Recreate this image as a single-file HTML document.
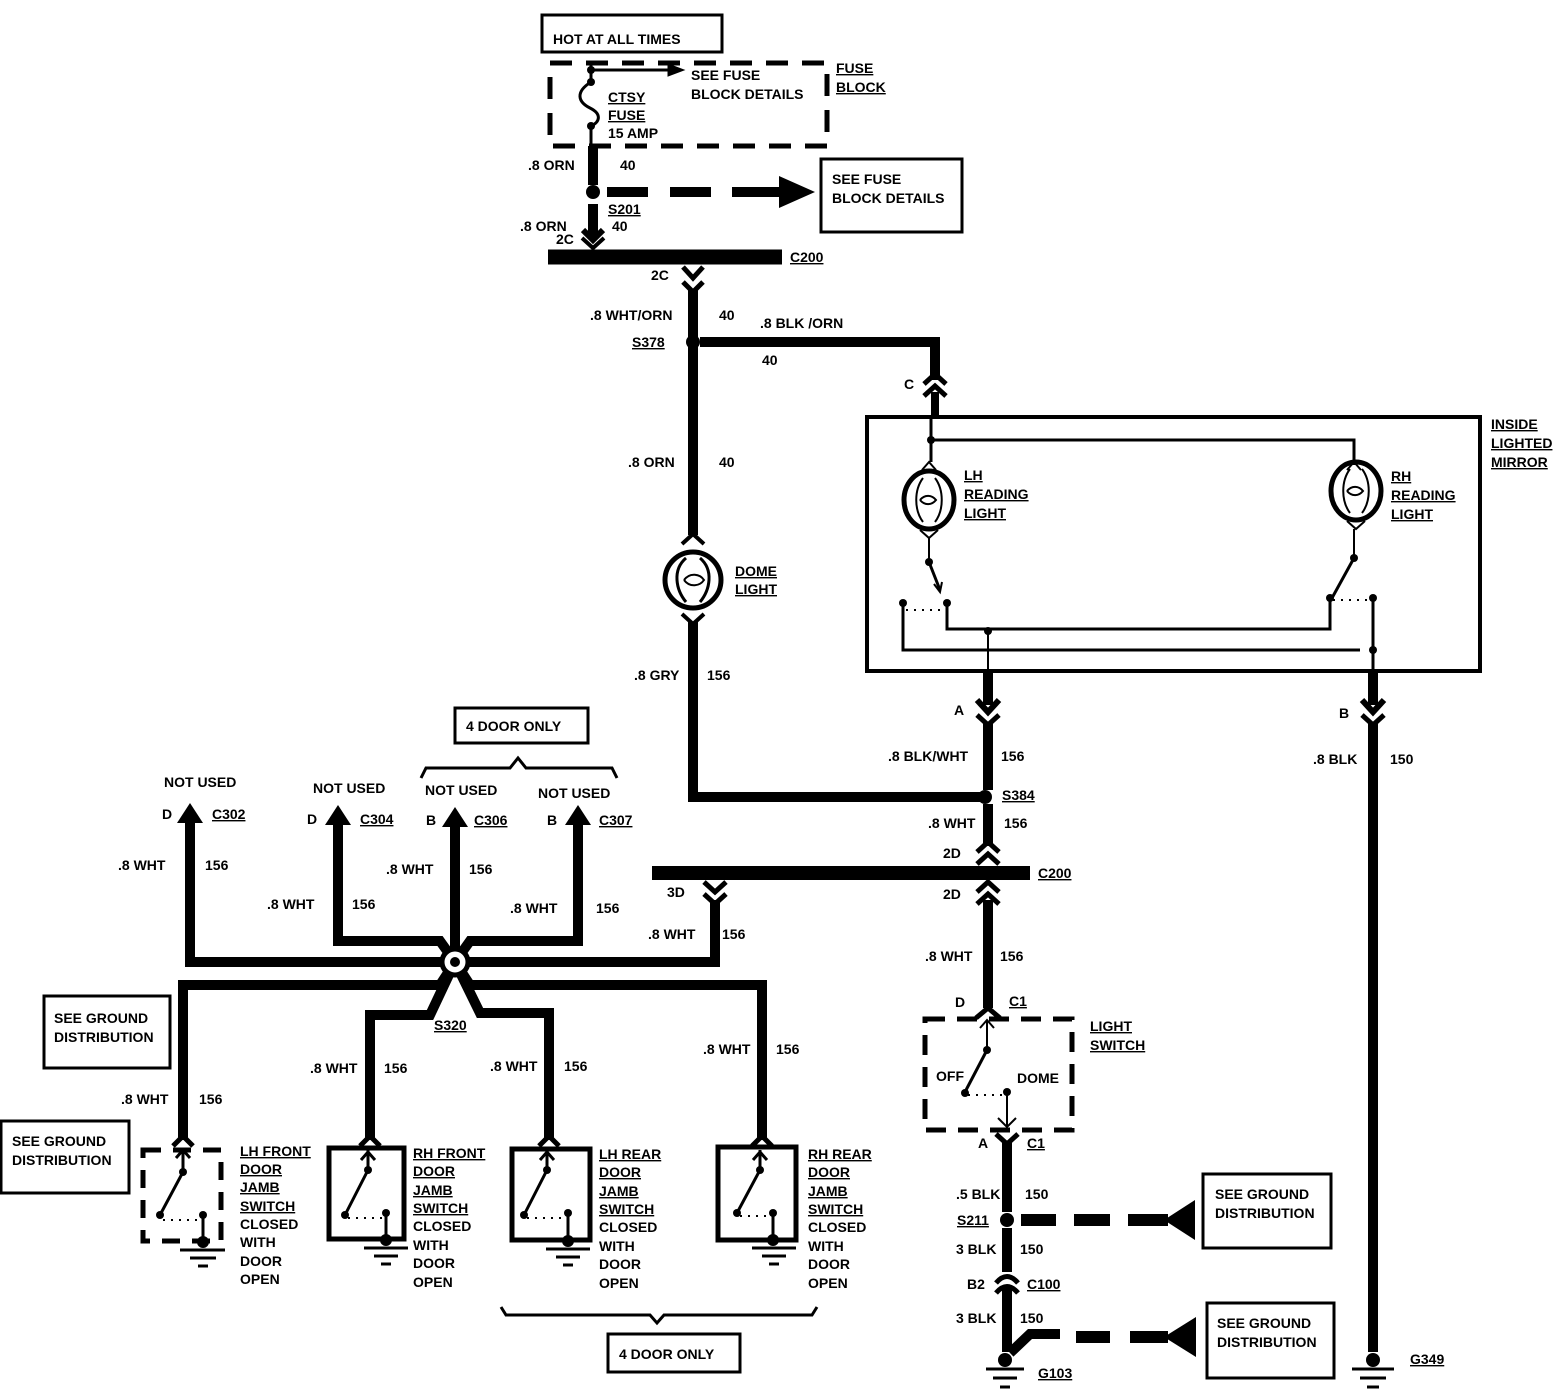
<!DOCTYPE html>
<html><head><meta charset="utf-8"><style>
html,body{margin:0;padding:0;background:#fff;}
svg{display:block;}
text{font-family:"Liberation Sans Narrow","Liberation Sans",sans-serif;font-weight:bold;font-size:14px;fill:#000;}
</style></head><body>
<svg width="1556" height="1392" viewBox="0 0 1556 1392" xmlns="http://www.w3.org/2000/svg">
<g fill="none" stroke="#000" stroke-linecap="butt">

<!-- TOP -->
<rect x="542" y="15" width="180" height="37" stroke-width="3"/>
<rect x="550" y="63" width="277" height="83" stroke-width="5" stroke-dasharray="22,14"/>
<line x1="591" y1="70" x2="670" y2="70" stroke-width="3"/>
<polygon points="668,64 684,70 668,76" fill="#000"/>
<line x1="591" y1="62" x2="591" y2="82" stroke-width="3"/>
<path d="M591,82 C575,92 578,102 590,108 C602,114 600,122 591,126" stroke-width="3"/>
<line x1="591" y1="126" x2="591" y2="148" stroke-width="3"/>
<line x1="593" y1="146" x2="593" y2="185" stroke-width="10"/>
<line x1="607" y1="192" x2="648" y2="192" stroke-width="10"/>
<line x1="670" y1="192" x2="711" y2="192" stroke-width="10"/>
<line x1="732" y1="192" x2="782" y2="192" stroke-width="10"/>
<polygon points="779,176 815,192 779,208" fill="#000" stroke="none"/>
<rect x="821" y="159" width="141" height="73" stroke-width="3"/>
<line x1="593" y1="204" x2="593" y2="236" stroke-width="10"/>
<polyline points="583,230 593,240 603,230" stroke-width="6"/>
<polyline points="582,238 593,248 604,238" stroke-width="4"/>
<line x1="548" y1="257" x2="782" y2="257" stroke-width="15"/>
<polyline points="683,267 693,278 703,267" stroke-width="5"/>
<polyline points="683,282 693,292 703,282" stroke-width="5"/>
<line x1="693" y1="290" x2="693" y2="535" stroke-width="10"/>
<line x1="700" y1="342" x2="940" y2="342" stroke-width="10"/>
<line x1="935" y1="338" x2="935" y2="380" stroke-width="10"/>
<polyline points="924,384 935,374 946,384" stroke-width="5"/>
<polyline points="924,396 935,386 946,396" stroke-width="5"/>
<line x1="935" y1="392" x2="935" y2="418" stroke-width="8"/>

<!-- dome light -->
<polyline points="682,544 693,534 704,544" stroke-width="4"/>
<circle cx="693" cy="580" r="28" stroke-width="5"/>
<path d="M686,558 C672,570 676,590 686,602 M700,558 C714,570 710,590 700,602" stroke-width="3"/>
<path d="M684,580 C690,572 700,574 704,580 C700,586 690,588 684,580" stroke-width="2"/>
<polyline points="682,614 693,624 704,614" stroke-width="4"/>
<line x1="693" y1="622" x2="693" y2="802" stroke-width="10"/>
<line x1="688" y1="797" x2="980" y2="797" stroke-width="10"/>

<!-- mirror box -->
<rect x="867" y="417" width="613" height="254" stroke-width="4"/>
<line x1="931" y1="418" x2="931" y2="462" stroke-width="3"/>
<polyline points="931,440 1354,440 1354,465" stroke-width="3"/>
<polyline points="922,470 929,462 936,470" stroke-width="2"/>
<ellipse cx="929" cy="500" rx="25" ry="29" stroke-width="5"/>
<path d="M923,478 C914,490 914,510 923,522 M935,478 C944,490 944,510 935,522" stroke-width="2"/>
<path d="M920,500 C925,494 932,495 936,500 C932,505 925,506 920,500" stroke-width="2"/>
<polyline points="920,530 929,538 938,530" stroke-width="2"/>
<line x1="929" y1="538" x2="929" y2="562" stroke-width="2"/>
<line x1="929" y1="562" x2="940" y2="590" stroke-width="3"/>
<polyline points="934,584 940,592 942,582" stroke-width="2"/>
<polyline points="903,603 903,650 1360,650" stroke-width="3"/>
<polyline points="947,603 947,629 1330,629 1330,598" stroke-width="3"/>
<line x1="906" y1="610" x2="944" y2="610" stroke-width="2" stroke-dasharray="2,6"/>
<line x1="1333" y1="600" x2="1372" y2="600" stroke-width="2" stroke-dasharray="2,6"/>
<polyline points="1347,470 1354,462 1361,470" stroke-width="2"/>
<ellipse cx="1356" cy="491" rx="25" ry="29" stroke-width="5"/>
<path d="M1350,469 C1341,481 1341,501 1350,513 M1362,469 C1371,481 1371,501 1362,513" stroke-width="2"/>
<path d="M1347,491 C1352,485 1359,486 1363,491 C1359,496 1352,497 1347,491" stroke-width="2"/>
<polyline points="1347,521 1356,529 1365,521" stroke-width="2"/>
<line x1="1354" y1="529" x2="1354" y2="558" stroke-width="2"/>
<line x1="1354" y1="558" x2="1332" y2="598" stroke-width="3"/>
<line x1="1373" y1="598" x2="1373" y2="672" stroke-width="3"/>
<line x1="988" y1="630" x2="988" y2="672" stroke-width="2"/>
<line x1="988" y1="670" x2="988" y2="705" stroke-width="10"/>
<polyline points="977,700 988,712 999,700" stroke-width="6"/>
<polyline points="977,715 988,725 999,715" stroke-width="5"/>
<line x1="1373" y1="670" x2="1373" y2="705" stroke-width="10"/>
<polyline points="1362,700 1373,712 1384,700" stroke-width="6"/>
<polyline points="1362,715 1373,725 1384,715" stroke-width="5"/>
<line x1="1373" y1="723" x2="1373" y2="1352" stroke-width="10"/>

<line x1="988" y1="723" x2="988" y2="790" stroke-width="10"/>
<line x1="988" y1="804" x2="988" y2="846" stroke-width="10"/>
<polyline points="977,852 988,842 999,852" stroke-width="5"/>
<polyline points="977,864 988,854 999,864" stroke-width="5"/>
<line x1="652" y1="873" x2="1030" y2="873" stroke-width="14"/>
<polyline points="977,892 988,882 999,892" stroke-width="5"/>
<polyline points="977,904 988,894 999,904" stroke-width="5"/>
<line x1="988" y1="900" x2="988" y2="1008" stroke-width="10"/>
<polyline points="976,1018 988,1008 1000,1018" stroke-width="5"/>

<!-- light switch -->
<rect x="925" y="1019" width="147" height="111" stroke-width="5" stroke-dasharray="20,12"/>
<line x1="987" y1="1020" x2="987" y2="1050" stroke-width="2"/>
<polyline points="980,1028 987,1020 994,1028" stroke-width="2"/>
<line x1="987" y1="1050" x2="965" y2="1092" stroke-width="3"/>
<line x1="968" y1="1095" x2="1005" y2="1095" stroke-width="2" stroke-dasharray="2,6"/>
<line x1="1007" y1="1092" x2="1007" y2="1128" stroke-width="2"/>
<polyline points="998,1118 1007,1127 1016,1118" stroke-width="2"/>
<polyline points="996,1134 1007,1144 1018,1134" stroke-width="5"/>
<line x1="1007" y1="1142" x2="1007" y2="1212" stroke-width="10"/>
<line x1="1007" y1="1228" x2="1007" y2="1272" stroke-width="10"/>
<path d="M996,1283 Q1007,1270 1018,1283" stroke-width="5"/>
<path d="M996,1293 Q1007,1280 1018,1293" stroke-width="5"/>
<line x1="1007" y1="1288" x2="1007" y2="1352" stroke-width="10"/>
<polyline points="1010,1353 1030,1334 1060,1334" stroke-width="10"/>
<line x1="1021" y1="1220" x2="1056" y2="1220" stroke-width="12"/>
<line x1="1074" y1="1220" x2="1110" y2="1220" stroke-width="12"/>
<line x1="1128" y1="1220" x2="1168" y2="1220" stroke-width="12"/>
<polygon points="1164,1220 1195,1200 1195,1240" fill="#000" stroke="none"/>
<rect x="1203" y="1174" width="128" height="74" stroke-width="3"/>
<line x1="1076" y1="1337" x2="1110" y2="1337" stroke-width="12"/>
<line x1="1130" y1="1337" x2="1168" y2="1337" stroke-width="12"/>
<polygon points="1164,1337 1196,1317 1196,1357" fill="#000" stroke="none"/>
<rect x="1207" y="1303" width="127" height="75" stroke-width="3"/>

<!-- grounds -->
<g stroke-width="3">
<line x1="986" y1="1369" x2="1024" y2="1369"/><line x1="993" y1="1378" x2="1017" y2="1378"/><line x1="1000" y1="1387" x2="1010" y2="1387"/>
<line x1="1352" y1="1369" x2="1394" y2="1369"/><line x1="1360" y1="1378" x2="1386" y2="1378"/><line x1="1367" y1="1387" x2="1379" y2="1387"/>
</g>

<!-- splice S320 and branches -->
<polyline points="190,818 190,962 715,962 715,900" stroke-width="10"/>
<polyline points="704,882 715,892 726,882" stroke-width="5"/>
<polyline points="704,894 715,904 726,894" stroke-width="5"/>
<polyline points="338,820 338,941 440,941 455,962" stroke-width="10"/>
<line x1="455" y1="822" x2="455" y2="962" stroke-width="10"/>
<polyline points="578,820 578,941 470,941 455,962" stroke-width="10"/>
<polyline points="183,1140 183,985 440,985 455,962" stroke-width="10"/>
<polyline points="762,1140 762,985 470,985 455,962" stroke-width="10"/>
<polyline points="370,1140 370,1015 430,1015 455,962" stroke-width="10"/>
<polyline points="549,1140 549,1013 480,1013 455,962" stroke-width="10"/>
<circle cx="455" cy="962" r="13" fill="#fff" stroke-width="5"/>
<circle cx="455" cy="962" r="5" fill="#000" stroke="none"/>
<g fill="#000" stroke="none">
<polygon points="177,823 190,803 203,823"/>
<polygon points="325,825 338,805 351,825"/>
<polygon points="442,827 455,807 468,827"/>
<polygon points="565,825 578,805 591,825"/>
</g>
<rect x="455" y="708" width="133" height="35" stroke-width="3"/>
<polyline points="421,778 426,768 510,768 518,758 526,768 612,768 617,778" stroke-width="3"/>
<rect x="44" y="996" width="126" height="72" stroke-width="3"/>
<rect x="1" y="1121" width="128" height="72" stroke-width="3"/>

<!-- door switches -->
<g stroke-width="5">
<polyline points="173,1146 183,1136 193,1146"/>
<polyline points="360,1146 370,1136 380,1146"/>
<polyline points="539,1146 549,1136 559,1146"/>
<polyline points="752,1146 762,1136 772,1146"/>
</g>
<rect x="143" y="1150" width="78" height="91" stroke-width="5" stroke-dasharray="18,12"/>
<rect x="329" y="1148" width="75" height="91" stroke-width="5"/>
<rect x="512" y="1149" width="78" height="91" stroke-width="5"/>
<rect x="718" y="1147" width="78" height="93" stroke-width="5"/>
<g stroke-width="3">
<path d="M183,1148 V1172 L160,1215 M176,1158 L183,1150 L190,1158"/>
<path d="M368,1150 V1170 L345,1215 M361,1160 L368,1152 L375,1160"/>
<path d="M547,1150 V1170 L524,1215 M540,1160 L547,1152 L554,1160"/>
<path d="M760,1150 V1170 L737,1213 M753,1160 L760,1152 L767,1160"/>
<path d="M203,1215 V1242 M386,1213 V1240 M568,1213 V1241 M773,1213 V1240"/>
</g>
<g stroke-width="2" stroke-dasharray="2,6">
<line x1="163" y1="1220" x2="200" y2="1220"/>
<line x1="348" y1="1218" x2="384" y2="1218"/>
<line x1="527" y1="1218" x2="565" y2="1218"/>
<line x1="740" y1="1216" x2="771" y2="1216"/>
</g>
<g stroke-width="3">
<line x1="180" y1="1250" x2="225" y2="1250"/><line x1="190" y1="1258" x2="216" y2="1258"/><line x1="198" y1="1266" x2="208" y2="1266"/>
<line x1="364" y1="1248" x2="408" y2="1248"/><line x1="374" y1="1256" x2="398" y2="1256"/><line x1="381" y1="1264" x2="391" y2="1264"/>
<line x1="546" y1="1249" x2="590" y2="1249"/><line x1="556" y1="1257" x2="580" y2="1257"/><line x1="563" y1="1265" x2="573" y2="1265"/>
<line x1="752" y1="1248" x2="796" y2="1248"/><line x1="762" y1="1256" x2="786" y2="1256"/><line x1="769" y1="1264" x2="779" y2="1264"/>
</g>
<polyline points="501,1307 506,1315 650,1315 657,1323 664,1315 812,1315 817,1307" stroke-width="3"/>
<rect x="608" y="1334" width="132" height="38" stroke-width="3"/>
</g>

<g fill="#000" stroke="none">
<circle cx="591" cy="70" r="4"/><circle cx="591" cy="82" r="4"/><circle cx="591" cy="126" r="4"/>
<circle cx="593" cy="192" r="7"/>
<circle cx="693" cy="342" r="7"/>
<circle cx="931" cy="440" r="4"/>
<circle cx="929" cy="562" r="4"/><circle cx="947" cy="603" r="4"/><circle cx="903" cy="603" r="4"/>
<circle cx="1354" cy="558" r="4"/><circle cx="1330" cy="598" r="4"/><circle cx="1373" cy="598" r="4"/>
<circle cx="988" cy="631" r="4"/><circle cx="1373" cy="650" r="4"/>
<circle cx="985" cy="797" r="7"/>
<circle cx="987" cy="1050" r="4"/><circle cx="965" cy="1093" r="4"/><circle cx="1007" cy="1092" r="4"/>
<circle cx="1007" cy="1220" r="7"/>
<circle cx="1005" cy="1360" r="7"/><circle cx="1373" cy="1360" r="7"/>
<circle cx="183" cy="1172" r="4"/><circle cx="160" cy="1215" r="4"/><circle cx="203" cy="1215" r="4"/><circle cx="203" cy="1242" r="6"/>
<circle cx="368" cy="1170" r="4"/><circle cx="345" cy="1215" r="4"/><circle cx="386" cy="1213" r="4"/><circle cx="386" cy="1240" r="6"/>
<circle cx="547" cy="1170" r="4"/><circle cx="524" cy="1215" r="4"/><circle cx="568" cy="1213" r="4"/><circle cx="568" cy="1241" r="6"/>
<circle cx="760" cy="1170" r="4"/><circle cx="737" cy="1213" r="4"/><circle cx="773" cy="1213" r="4"/><circle cx="773" cy="1240" r="6"/>
</g>

<g>
<text x="553" y="44">HOT AT ALL TIMES</text>
<text x="691" y="80">SEE FUSE</text><text x="691" y="99">BLOCK DETAILS</text>
<text x="608" y="102" text-decoration="underline">CTSY</text>
<text x="608" y="120" text-decoration="underline">FUSE</text>
<text x="608" y="138">15 AMP</text>
<text x="836" y="73" text-decoration="underline">FUSE</text>
<text x="836" y="92" text-decoration="underline">BLOCK</text>
<text x="528" y="170">.8 ORN</text><text x="620" y="170">40</text>
<text x="832" y="184">SEE FUSE</text><text x="832" y="203">BLOCK DETAILS</text>
<text x="608" y="214" text-decoration="underline">S201</text>
<text x="520" y="231">.8 ORN</text><text x="612" y="231">40</text>
<text x="556" y="244">2C</text>
<text x="790" y="262" text-decoration="underline">C200</text>
<text x="651" y="280">2C</text>
<text x="590" y="320">.8 WHT/ORN</text><text x="719" y="320">40</text>
<text x="760" y="328">.8 BLK /ORN</text><text x="762" y="365">40</text>
<text x="632" y="347" text-decoration="underline">S378</text>
<text x="904" y="389">C</text>
<text x="628" y="467">.8 ORN</text><text x="719" y="467">40</text>
<text x="735" y="576" text-decoration="underline">DOME</text><text x="735" y="594" text-decoration="underline">LIGHT</text>
<text x="634" y="680">.8 GRY</text><text x="707" y="680">156</text>
<text x="1491" y="429" text-decoration="underline">INSIDE</text>
<text x="1491" y="448" text-decoration="underline">LIGHTED</text>
<text x="1491" y="467" text-decoration="underline">MIRROR</text>
<text x="964" y="480" text-decoration="underline">LH</text><text x="964" y="499" text-decoration="underline">READING</text><text x="964" y="518" text-decoration="underline">LIGHT</text>
<text x="1391" y="481" text-decoration="underline">RH</text><text x="1391" y="500" text-decoration="underline">READING</text><text x="1391" y="519" text-decoration="underline">LIGHT</text>
<text x="954" y="715">A</text><text x="1339" y="718">B</text>
<text x="888" y="761">.8 BLK/WHT</text><text x="1001" y="761">156</text>
<text x="1313" y="764">.8 BLK</text><text x="1390" y="764">150</text>
<text x="1002" y="800" text-decoration="underline">S384</text>
<text x="928" y="828">.8 WHT</text><text x="1004" y="828">156</text>
<text x="943" y="858">2D</text>
<text x="1038" y="878" text-decoration="underline">C200</text>
<text x="943" y="899">2D</text>
<text x="925" y="961">.8 WHT</text><text x="1000" y="961">156</text>
<text x="955" y="1007">D</text><text x="1009" y="1006" text-decoration="underline">C1</text>
<text x="1090" y="1031" text-decoration="underline">LIGHT</text><text x="1090" y="1050" text-decoration="underline">SWITCH</text>
<text x="936" y="1081">OFF</text><text x="1017" y="1083">DOME</text>
<text x="978" y="1148">A</text><text x="1027" y="1148" text-decoration="underline">C1</text>
<text x="956" y="1199">.5 BLK</text><text x="1025" y="1199">150</text>
<text x="957" y="1225" text-decoration="underline">S211</text>
<text x="956" y="1254">3 BLK</text><text x="1020" y="1254">150</text>
<text x="967" y="1289">B2</text><text x="1027" y="1289" text-decoration="underline">C100</text>
<text x="956" y="1323">3 BLK</text><text x="1020" y="1323">150</text>
<text x="1038" y="1378" text-decoration="underline">G103</text>
<text x="1410" y="1364" text-decoration="underline">G349</text>
<text x="1215" y="1199">SEE GROUND</text><text x="1215" y="1218">DISTRIBUTION</text>
<text x="1217" y="1328">SEE GROUND</text><text x="1217" y="1347">DISTRIBUTION</text>
<text x="466" y="731">4 DOOR ONLY</text>
<text x="164" y="787">NOT USED</text><text x="313" y="793">NOT USED</text><text x="425" y="795">NOT USED</text><text x="538" y="798">NOT USED</text>
<text x="162" y="819">D</text><text x="212" y="819" text-decoration="underline">C302</text>
<text x="307" y="824">D</text><text x="360" y="824" text-decoration="underline">C304</text>
<text x="426" y="825">B</text><text x="474" y="825" text-decoration="underline">C306</text>
<text x="547" y="825">B</text><text x="599" y="825" text-decoration="underline">C307</text>
<text x="118" y="870">.8 WHT</text><text x="205" y="870">156</text>
<text x="386" y="874">.8 WHT</text><text x="469" y="874">156</text>
<text x="267" y="909">.8 WHT</text><text x="352" y="909">156</text>
<text x="510" y="913">.8 WHT</text><text x="596" y="913">156</text>
<text x="667" y="897">3D</text>
<text x="648" y="939">.8 WHT</text><text x="722" y="939">156</text>
<text x="434" y="1030" text-decoration="underline">S320</text>
<text x="54" y="1023">SEE GROUND</text><text x="54" y="1042">DISTRIBUTION</text>
<text x="12" y="1146">SEE GROUND</text><text x="12" y="1165">DISTRIBUTION</text>
<text x="310" y="1073">.8 WHT</text><text x="384" y="1073">156</text>
<text x="490" y="1071">.8 WHT</text><text x="564" y="1071">156</text>
<text x="703" y="1054">.8 WHT</text><text x="776" y="1054">156</text>
<text x="121" y="1104">.8 WHT</text><text x="199" y="1104">156</text>
<text x="240" y="1156" text-decoration="underline">LH FRONT</text><text x="240" y="1174" text-decoration="underline">DOOR</text><text x="240" y="1192" text-decoration="underline">JAMB</text><text x="240" y="1211" text-decoration="underline">SWITCH</text><text x="240" y="1229">CLOSED</text><text x="240" y="1247">WITH</text><text x="240" y="1266">DOOR</text><text x="240" y="1284">OPEN</text>
<text x="413" y="1158" text-decoration="underline">RH FRONT</text><text x="413" y="1176" text-decoration="underline">DOOR</text><text x="413" y="1195" text-decoration="underline">JAMB</text><text x="413" y="1213" text-decoration="underline">SWITCH</text><text x="413" y="1231">CLOSED</text><text x="413" y="1250">WITH</text><text x="413" y="1268">DOOR</text><text x="413" y="1287">OPEN</text>
<text x="599" y="1159" text-decoration="underline">LH REAR</text><text x="599" y="1177" text-decoration="underline">DOOR</text><text x="599" y="1196" text-decoration="underline">JAMB</text><text x="599" y="1214" text-decoration="underline">SWITCH</text><text x="599" y="1232">CLOSED</text><text x="599" y="1251">WITH</text><text x="599" y="1269">DOOR</text><text x="599" y="1288">OPEN</text>
<text x="808" y="1159" text-decoration="underline">RH REAR</text><text x="808" y="1177" text-decoration="underline">DOOR</text><text x="808" y="1196" text-decoration="underline">JAMB</text><text x="808" y="1214" text-decoration="underline">SWITCH</text><text x="808" y="1232">CLOSED</text><text x="808" y="1251">WITH</text><text x="808" y="1269">DOOR</text><text x="808" y="1288">OPEN</text>
<text x="619" y="1359">4 DOOR ONLY</text>
</g>
</svg>
</body></html>
